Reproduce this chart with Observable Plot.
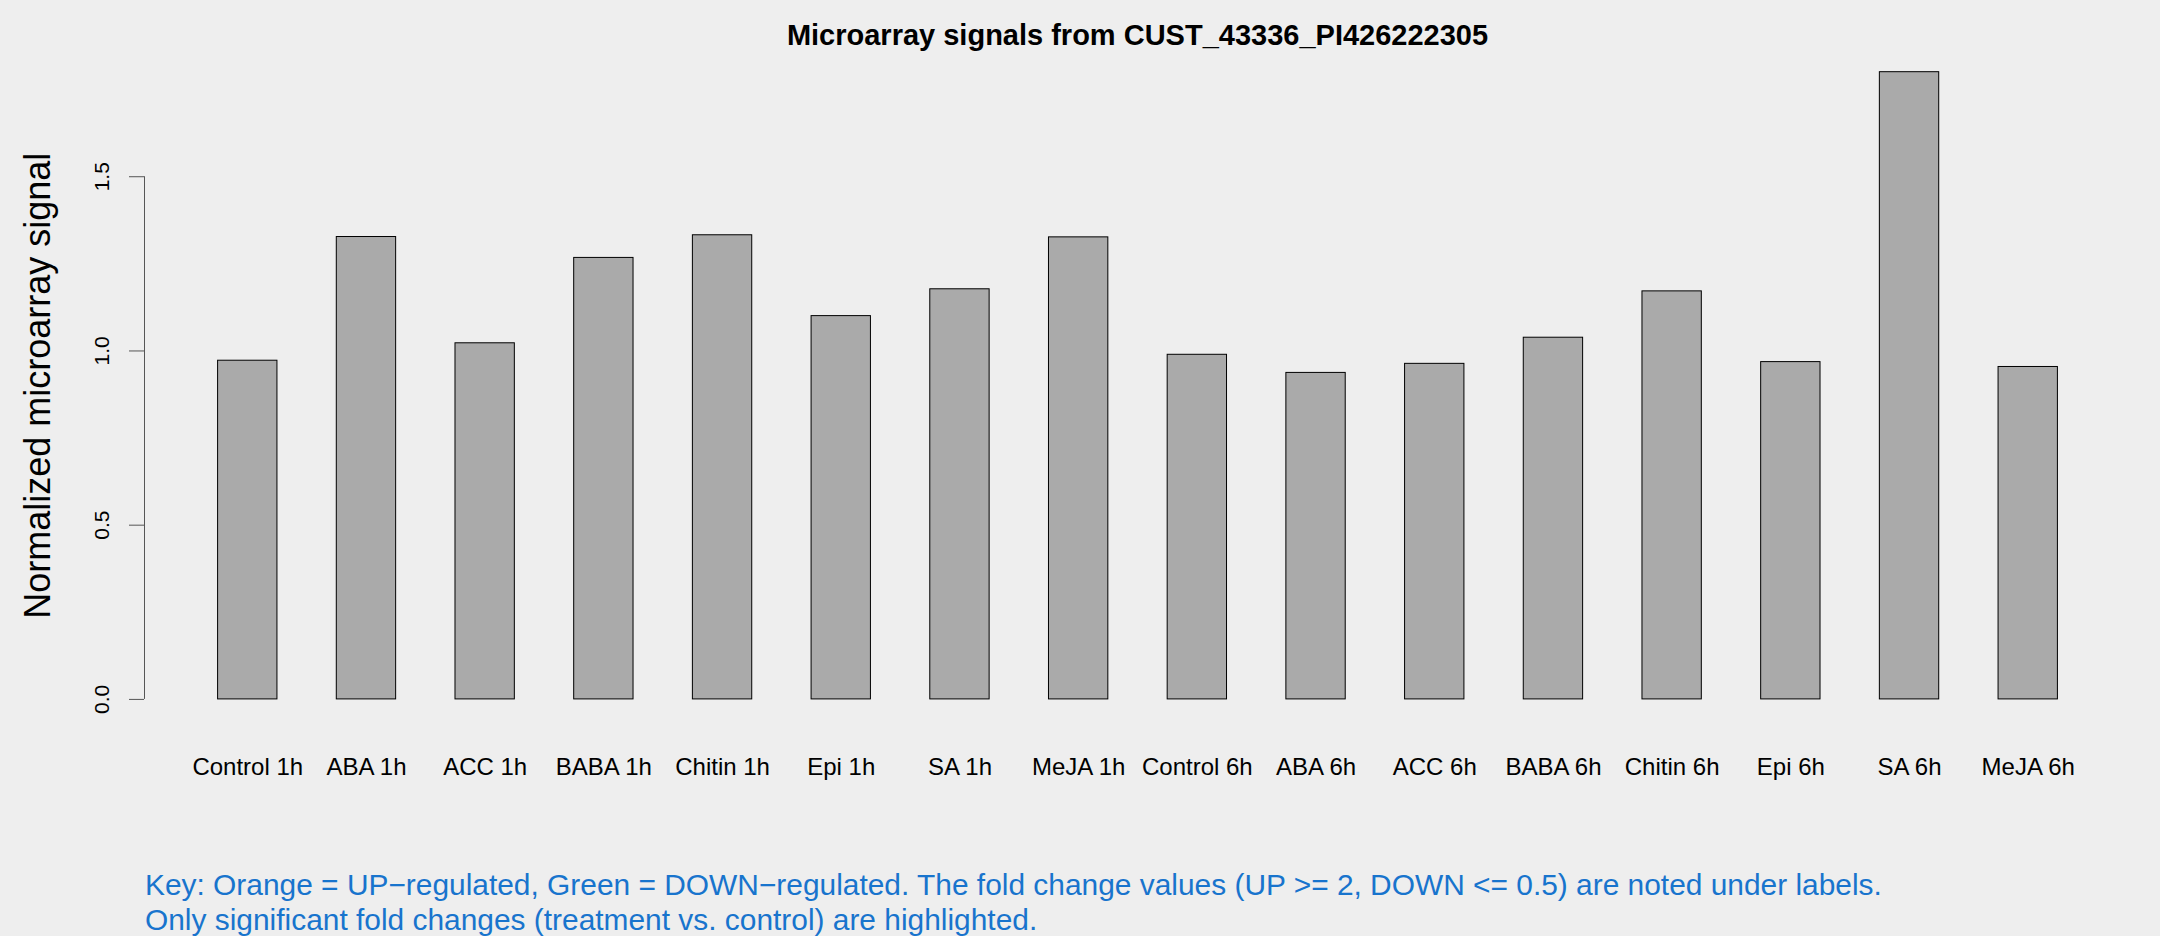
<!DOCTYPE html>
<html>
<head>
<meta charset="utf-8">
<script src="https://cdn.jsdelivr.net/npm/d3@7"></script>
<script src="https://cdn.jsdelivr.net/npm/@observablehq/plot@0.6"></script>
<style>
  html, body { margin: 0; padding: 0; background: #eeeeee; }
  #wrap { position: relative; width: 2160px; height: 936px; overflow: hidden;
          font-family: "Liberation Sans", Arial, Helvetica, sans-serif; }
  #chart { position: absolute; left: 0; top: 0; }
  #title { position: absolute; left: 1137.5px; top: 20.5px; transform: translateX(-50%);
           white-space: nowrap; font-size: 29px; line-height: 29px; font-weight: bold; color: #000; }
  #caption { position: absolute; left: 145px; top: 866.75px; white-space: nowrap;
             font-size: 29.9px; line-height: 35.7px; color: #1874CD; }
</style>
</head>
<body>
<div id="wrap">
  <div id="chart"></div>
  <div id="title"></div>
  <div id="caption"></div>
</div>
<script>
const titleText = "Microarray signals from CUST_43336_PI426222305";
const yLabel = "Normalized microarray signal";
const captionLines = [
  "Key: Orange = UP\u2212regulated, Green = DOWN\u2212regulated. The fold change values (UP >= 2, DOWN <= 0.5) are noted under labels.",
  "Only significant fold changes (treatment vs. control) are highlighted."
];
const categories = ["Control 1h","ABA 1h","ACC 1h","BABA 1h","Chitin 1h","Epi 1h","SA 1h","MeJA 1h",
                    "Control 6h","ABA 6h","ACC 6h","BABA 6h","Chitin 6h","Epi 6h","SA 6h","MeJA 6h"];
const signals = [0.972,1.327,1.022,1.267,1.332,1.100,1.177,1.326,
                 0.989,0.937,0.963,1.038,1.171,0.968,1.800,0.954];
const yTicks = [0, 0.5, 1.0, 1.5];

const data = categories.map((name, i) => ({name, value: signals[i]}));

const W = 2160, H = 936;
const mL = 144, mR = 29, mT = 46.6, mB = 212;
const padIn = 0.5, padOut = 0.62;
const step = (W - mL - mR) / (categories.length - padIn + 2 * padOut);
const bw = step * (1 - padIn);
const axisShift = -(step * padOut + bw / 2);
const ymax = d3.max(signals);
const ypad = 0.04 * ymax;

document.getElementById("title").textContent = titleText;
const cap = document.getElementById("caption");
captionLines.forEach(t => { const d = document.createElement("div"); d.textContent = t; cap.appendChild(d); });

const chart = Plot.plot({
  width: W, height: H,
  marginLeft: mL, marginRight: mR, marginTop: mT, marginBottom: mB,
  style: {background: "transparent", fontFamily: "'Liberation Sans', Arial, Helvetica, sans-serif", color: "#000"},
  x: {domain: categories, paddingInner: padIn, paddingOuter: padOut, round: false, axis: null},
  y: {domain: [-ypad, ymax + ypad], axis: null},
  marks: [
    Plot.barY(data, {x: "name", y: "value", fill: "#aaaaaa", stroke: "#000", strokeWidth: 1}),
    Plot.axisX({tickSize: 0, tickPadding: 33, fontSize: 24, label: null}),
    Plot.axisY(yTicks, {tickSize: 15, tickRotate: -90, tickPadding: 21, fontSize: 21,
                        tickFormat: d => d.toFixed(1), stroke: "#555", label: null}),
    Plot.ruleX([categories[0]], {x: d => d, y1: d3.min(yTicks), y2: d3.max(yTicks), dx: axisShift, stroke: "#555"}),
    Plot.text([yLabel], {frameAnchor: "left", textAnchor: "middle", lineAnchor: "middle", rotate: -90,
                         dx: -106, fontSize: 36, fill: "#000"})
  ]
});
document.getElementById("chart").appendChild(chart);
</script>
</body>
</html>
